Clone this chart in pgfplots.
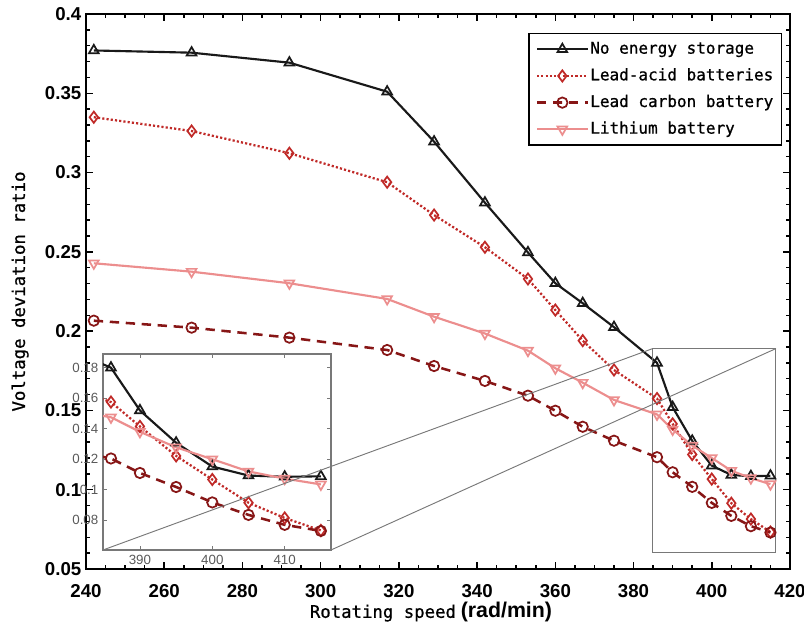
\documentclass[border=0pt]{standalone}
\usepackage{pgfplots}
\usepackage{pgfplotstable}
\pgfplotsset{compat=1.18}
\usepackage{fontspec}
\setmainfont{Liberation Sans}
\newfontfamily\monof[FakeBold=0.8]{DejaVu Sans Mono}
\definecolor{blk}{RGB}{25,25,25}
\definecolor{leadacid}{RGB}{192,42,40}
\definecolor{leadcarbon}{RGB}{135,22,22}
\definecolor{lith}{RGB}{236,142,142}
\definecolor{insetgray}{RGB}{120,120,120}

\pgfplotstableread{
x   noes   la     lc     li
242 0.3770 0.3349 0.2066 0.2428
267 0.3756 0.3262 0.2022 0.2375
292 0.3693 0.3122 0.1959 0.2302
317 0.3510 0.2939 0.1881 0.2203
329 0.3195 0.2732 0.1780 0.2091
342 0.2810 0.2529 0.1686 0.1985
353 0.2496 0.2329 0.1593 0.1877
360 0.2302 0.2133 0.1498 0.1766
367 0.2176 0.1940 0.1397 0.1675
375 0.2025 0.1755 0.1309 0.1566
386 0.1800 0.1575 0.1205 0.1475
390 0.1520 0.1415 0.1110 0.1380
395 0.1308 0.1222 0.1018 0.1278
400 0.1152 0.1067 0.0917 0.1200
405 0.1093 0.0915 0.0835 0.1120
410 0.1085 0.0815 0.0770 0.1073
415 0.1088 0.0733 0.0730 0.1035
}\datatable

\pgfplotsset{
  s1/.style={blk, line width=1.6pt, mark=triangle, mark size=4.2pt, mark options={solid, line width=1.3pt}},
  s2/.style={leadacid, line width=1.7pt, dash pattern=on 1.6pt off 1.6pt, mark=diamond, mark size=4.2pt, mark options={solid, line width=1.3pt}},
  s3/.style={leadcarbon, line width=1.9pt, dash pattern=on 7pt off 5pt, mark=o, mark size=3.9pt, mark options={solid, line width=1.3pt}},
  s4/.style={lith, line width=1.6pt, mark=triangle, mark size=4.2pt, mark options={solid, rotate=180, line width=1.3pt}},
}

\begin{document}
\begin{tikzpicture}
\begin{axis}[
  name=main, at={(0,0)}, anchor=south west,
  scale only axis, width=528pt, height=416.25pt,
  xmin=240, xmax=420, ymin=0.05, ymax=0.4,
  xtick={240,260,280,300,320,340,360,380,400,420},
  ytick={0.05,0.1,0.15,0.2,0.25,0.3,0.35,0.4},
  yticklabels={0.05,0.1,0.15,0.2,0.25,0.3,0.35,0.4},
  minor x tick num=3, minor y tick num=4,
  tick align=inside, major tick length=5.5pt, minor tick length=3pt,
  axis line style={line width=1.5pt},
  every tick/.style={black, line width=1.1pt},
  /pgf/number format/assume math mode=true,
  ticklabel style={font=\fontsize{14}{14}\selectfont\bfseries},
  xticklabel style={yshift=-8pt},
  xlabel={{\monof Rotating speed} {\fontsize{16}{16}\selectfont\bfseries (rad/min)}},
  ylabel={\monof Voltage deviation ratio},
  every axis x label/.style={at={(axis description cs:0.49,-0.078)}, anchor=center, font=\fontsize{13}{13}\selectfont},
  every axis y label/.style={at={(axis description cs:-0.0935,0.5)}, anchor=center, rotate=90, font=\fontsize{13}{13}\selectfont},
  legend style={at={(0.9886,0.9658)}, anchor=north east, draw=black, line width=1pt,
    font=\monof\fontsize{12}{12}\selectfont, row sep=6.5pt, inner sep=5pt,
    nodes={inner sep=1pt, text height=9pt, text depth=2.5pt}},
  legend cell align=left,
  legend image code/.code={\draw[mark repeat=2,mark phase=2,#1] plot coordinates {(0pt,0pt) (19pt,0pt) (38pt,0pt)};},
]
\addplot[s1] table[x=x,y=noes]{\datatable};
\addlegendentry{No energy storage}
\addplot[s2] table[x=x,y=la]{\datatable};
\addlegendentry{Lead-acid batteries}
\addplot[s3] table[x=x,y=lc]{\datatable};
\addlegendentry{Lead carbon battery}
\addplot[s4] table[x=x,y=li]{\datatable};
\addlegendentry{Lithium battery}
\draw[insetgray, line width=0.8pt] (axis cs:384.9,0.0605) rectangle (axis cs:416.4,0.189);
\coordinate (rtl) at (axis cs:384.9,0.189);
\coordinate (rtr) at (axis cs:416.4,0.189);
\end{axis}

\begin{axis}[
  name=inset, at={(12.75pt,14.25pt)}, anchor=south west,
  scale only axis, width=171pt, height=147pt,
  xmin=384.9, xmax=416.4, ymin=0.0605, ymax=0.189,
  xtick={390,400,410},
  ytick={0.08,0.1,0.12,0.14,0.16,0.18},
  yticklabels={0.08,0.1,0.12,0.14,0.16,0.18},
  tick align=inside, major tick length=3pt,
  axis background/.style={fill=white},
  axis line style={insetgray, line width=0.8pt},
  every tick/.style={insetgray, line width=0.6pt},
  /pgf/number format/assume math mode=true,
  ticklabel style={font=\fontsize{10}{10}\selectfont, text=black!65},
]
\addplot[s1] table[x=x,y=noes]{\datatable};
\addplot[s2] table[x=x,y=la]{\datatable};
\addplot[s3] table[x=x,y=lc]{\datatable};
\addplot[s4] table[x=x,y=li]{\datatable};
\end{axis}
\draw[insetgray, line width=0.7pt] (inset.south west) -- (rtl);
\draw[insetgray, line width=0.7pt] (inset.south east) -- (rtr);
\pgfresetboundingbox
\path[use as bounding box] (-64.5pt,-40.5pt) rectangle (538.5pt,426.75pt);
\end{tikzpicture}
\end{document}
